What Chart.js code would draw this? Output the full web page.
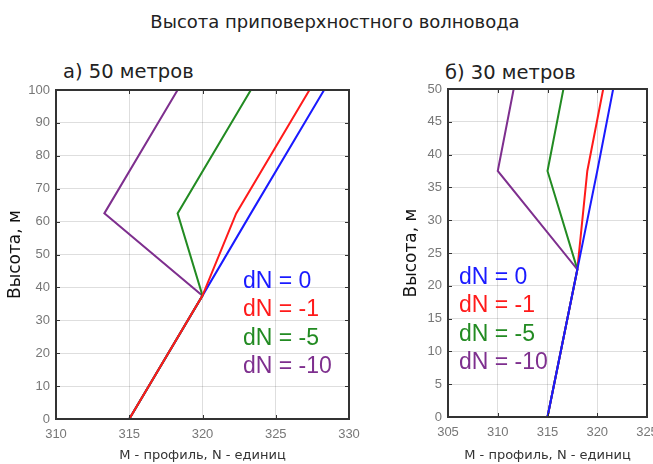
<!DOCTYPE html>
<html lang="ru">
<head>
<meta charset="utf-8">
<script src="https://cdn.jsdelivr.net/npm/chart.js@4.4.1/dist/chart.umd.min.js"></script>
<style>
  body { margin: 0; background: #fff; }
  #lienzo { position: relative; width: 653px; height: 464px; overflow: hidden; font-family: 'DejaVu Sans', sans-serif; }
  .txt { position: absolute; white-space: nowrap; color: #222; }
  .leyenda { position: absolute; font-family: 'Liberation Sans', Arial, sans-serif; font-size: 23px; line-height: 28.3px; white-space: nowrap; }
  canvas { position: absolute; top: 0; }
</style>
</head>
<body>
<div id="lienzo">
  <div class="txt" style="left:0; width:670px; text-align:center; top:11px; font-size:18px;">Высота приповерхностного волновода</div>
  <div class="txt" style="left:63px; top:60px; font-size:19.5px;">а) 50 метров</div>
  <div class="txt" style="left:445px; top:61px; font-size:19.5px;">б) 30 метров</div>

  <canvas id="graficoA" width="360" height="464" style="left:0"></canvas>
  <canvas id="graficoB" width="273" height="464" style="left:380px"></canvas>

  <div class="leyenda" style="left:243px; top:266px;">
    <div style="color:#1a1aff">dN = 0</div>
    <div style="color:#ff1a1a">dN = -1</div>
    <div style="color:#228b22">dN = -5</div>
    <div style="color:#7e2f8e">dN = -10</div>
  </div>
  <div class="leyenda" style="left:459px; top:262px;">
    <div style="color:#1a1aff">dN = 0</div>
    <div style="color:#ff1a1a">dN = -1</div>
    <div style="color:#228b22">dN = -5</div>
    <div style="color:#7e2f8e">dN = -10</div>
  </div>
</div>
<script>
// а) 50 метров - высота, м и M-профиль для каждого dN
const alturasA = [0, 37.5, 62.5, 100];
const mA_dN0 = [315, 320, 323.3, 328.3];
const mA_dN1 = [315, 320, 322.3, 327.3];
const mA_dN5 = [315, 320, 318.3, 323.3];
const mA_dN10 = [315, 320, 313.3, 318.3];
const ticksXA = [310, 315, 320, 325, 330];

// б) 30 метров
const alturasB = [0, 22.5, 37.5, 50];
const mB_dN0 = [315, 318, 320, 321.6];
const mB_dN1 = [315, 318, 319, 320.6];
const mB_dN5 = [315, 318, 315, 316.6];
const mB_dN10 = [315, 318, 310, 311.6];
const ticksXB = [305, 310, 315, 320, 325];

const colores = ['#1a1aff', '#ff1a1a', '#228b22', '#7e2f8e'];
const etiquetas = ['dN = 0', 'dN = -1', 'dN = -5', 'dN = -10'];

const puntos = (xs, ys) => xs.map((x, i) => ({ x: x, y: ys[i] }));

// marco negro alrededor del area + marcas hacia adentro (estilo matlab)
const marco = {
  id: 'marco',
  afterDatasetsDraw(chart) {
    const { ctx, chartArea: a, scales } = chart;
    ctx.save();
    ctx.strokeStyle = '#333';
    ctx.lineWidth = 1;
    scales.x.ticks.forEach(t => {
      const px = Math.round(scales.x.getPixelForValue(t.value)) + 0.5;
      ctx.beginPath();
      ctx.moveTo(px, a.bottom); ctx.lineTo(px, a.bottom - 4);
      ctx.moveTo(px, a.top); ctx.lineTo(px, a.top + 4);
      ctx.stroke();
    });
    scales.y.ticks.forEach(t => {
      const py = Math.round(scales.y.getPixelForValue(t.value)) + 0.5;
      ctx.beginPath();
      ctx.moveTo(a.left, py); ctx.lineTo(a.left + 4, py);
      ctx.moveTo(a.right, py); ctx.lineTo(a.right - 4, py);
      ctx.stroke();
    });
    ctx.lineWidth = 2;
    ctx.strokeRect(a.left, a.top, a.right - a.left, a.bottom - a.top);
    ctx.restore();
  }
};

function crearGrafico(id, alturas, series, ordenes, ticksX, yMax, yPaso, cfg) {
  const ctx = document.getElementById(id).getContext('2d');
  return new Chart(ctx, {
    type: 'line',
    data: {
      datasets: series.map((s, i) => ({
        label: etiquetas[i],
        data: puntos(s, alturas),
        borderColor: colores[i],
        borderWidth: 2,
        pointRadius: 0,
        fill: false,
        tension: 0,
        order: ordenes[i]
      }))
    },
    options: {
      responsive: false,
      animation: false,
      layout: { padding: { top: cfg.top, right: cfg.right, bottom: 0, left: 0 } },
      plugins: { legend: { display: false }, tooltip: { enabled: false } },
      scales: {
        x: {
          type: 'linear',
          min: ticksX[0],
          max: ticksX[ticksX.length - 1],
          afterBuildTicks: s => { s.ticks = ticksX.map(v => ({ value: v })); },
          afterFit: s => { s.height = cfg.xAlto; s.paddingLeft = 0; s.paddingRight = 0; },
          ticks: { color: '#777', font: { family: 'Liberation Sans', size: 13 }, padding: 8, autoSkip: false, maxRotation: 0 },
          grid: { color: 'rgba(0,0,0,0.13)', drawTicks: false },
          border: { display: false },
          title: { display: true, text: 'М - профиль, N - единиц', color: '#333', font: { family: 'DejaVu Sans', size: 13 }, padding: { top: 0, bottom: 1 } }
        },
        y: {
          type: 'linear',
          min: 0,
          max: yMax,
          ticks: { stepSize: yPaso, color: '#777', font: { family: 'Liberation Sans', size: 13 }, padding: 6, autoSkip: false },
          afterFit: s => { s.width = cfg.yAncho; s.paddingTop = 0; s.paddingBottom = 0; },
          grid: { color: 'rgba(0,0,0,0.13)', drawTicks: false },
          border: { display: false },
          title: { display: true, text: 'Высота, м', color: '#111', font: { family: 'DejaVu Sans', size: 17 }, padding: { top: cfg.tituloY, bottom: 0 } }
        }
      }
    },
    plugins: [marco]
  });
}

// izquierda: rojo encima en el tramo comun
crearGrafico('graficoA', alturasA, [mA_dN0, mA_dN1, mA_dN5, mA_dN10], [3, 0, 1, 2], ticksXA, 100, 10,
  { top: 90, right: 11, xAlto: 45, yAncho: 56, tituloY: 5 });
// derecha: azul encima
crearGrafico('graficoB', alturasB, [mB_dN0, mB_dN1, mB_dN5, mB_dN10], [0, 3, 2, 1], ticksXB, 50, 5,
  { top: 89, right: 6, xAlto: 47, yAncho: 68, tituloY: 21 });
</script>
</body>
</html>
